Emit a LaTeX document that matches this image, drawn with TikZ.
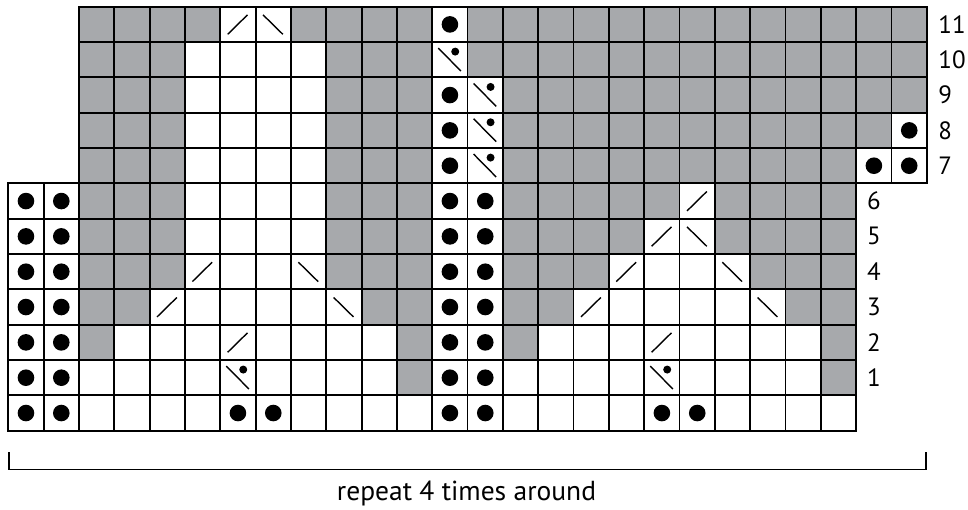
\documentclass[tikz,border=0pt]{standalone}
\usepackage{fontspec}
\setmainfont{PT Sans}
\definecolor{chartgray}{RGB}{167,169,172}
\tikzset{
  gridline/.style={line width=1.8pt, line cap=rect},
  symline/.style={line width=1.4pt},
  bracketline/.style={line width=1.7pt},
  rowlabel/.style={anchor=west, inner sep=0pt, font=\fontsize{25}{25}\selectfont},
  captiontext/.style={anchor=base, inner sep=0pt, font=\fontsize{27.5}{27.5}\selectfont},
}
\newcommand\symG{\fill[chartgray] (0,0) rectangle (1,1);}
\newcommand\symW{}
\newcommand\symD{\fill (0.5,0.5) circle[radius=8.3pt];}
\newcommand\symL{\draw[symline] (0.21,0.22) -- (0.77,0.77);}
\newcommand\symR{\draw[symline] (0.21,0.77) -- (0.77,0.22);}
\newcommand\symP{\draw[symline] (0.17,0.83) -- (0.81,0.18); \fill (0.65,0.73) circle[radius=4pt];}
\newcommand\chartcell[3]{\begin{scope}[shift={(#1,#2)}]\csname sym#3\endcsname\end{scope}}
\newcommand\chartrow[3]{\foreach \t [count=\c from #2] in {#3} {\chartcell{\c}{#1}{\t}}}
\begin{document}
\begin{tikzpicture}[x=1pt,y=1pt]
\useasboundingbox (0,0) rectangle (968,509);
\begin{scope}[shift={(8.3,78.3)}, x=35.33pt, y=35.33pt]
  \chartrow{0}{0}{D,D,W,W,W,W,D,D,W,W,W,W,D,D,W,W,W,W,D,D,W,W,W,W}
  \chartrow{1}{0}{D,D,W,W,W,W,P,W,W,W,W,G,D,D,W,W,W,W,P,W,W,W,W,G}
  \chartrow{2}{0}{D,D,G,W,W,W,L,W,W,W,W,G,D,D,G,W,W,W,L,W,W,W,W,G}
  \chartrow{3}{0}{D,D,G,G,L,W,W,W,W,R,G,G,D,D,G,G,L,W,W,W,W,R,G,G}
  \chartrow{4}{0}{D,D,G,G,G,L,W,W,R,G,G,G,D,D,G,G,G,L,W,W,R,G,G,G}
  \chartrow{5}{0}{D,D,G,G,G,W,W,W,W,G,G,G,D,D,G,G,G,G,L,R,G,G,G,G}
  \chartrow{6}{0}{D,D,G,G,G,W,W,W,W,G,G,G,D,D,G,G,G,G,G,L,G,G,G,G}
  \chartrow{7}{2}{G,G,G,W,W,W,W,G,G,G,D,P,G,G,G,G,G,G,G,G,G,G,D,D}
  \chartrow{8}{2}{G,G,G,W,W,W,W,G,G,G,D,P,G,G,G,G,G,G,G,G,G,G,G,D}
  \chartrow{9}{2}{G,G,G,W,W,W,W,G,G,G,D,P,G,G,G,G,G,G,G,G,G,G,G,G}
  \chartrow{10}{2}{G,G,G,W,W,W,W,G,G,G,P,G,G,G,G,G,G,G,G,G,G,G,G,G}
  \chartrow{11}{2}{G,G,G,G,L,R,G,G,G,G,D,G,G,G,G,G,G,G,G,G,G,G,G,G}
  \foreach \x in {0,...,24} \draw[gridline] (\x,0) -- (\x,7);
  \foreach \x in {2,...,26} \draw[gridline] (\x,7) -- (\x,12);
  \foreach \y in {0,...,6} \draw[gridline] (0,\y) -- (24,\y);
  \draw[gridline] (0,7) -- (26,7);
  \foreach \y in {8,...,12} \draw[gridline] (2,\y) -- (26,\y);
  \foreach \r in {1,...,6} \node[rowlabel] (lab\r) at (24.3,\r+0.5) {\r};
  \foreach \r in {7,...,11} \node[rowlabel] (lab\r) at (26.32,\r+0.5) {\r};
\end{scope}
\coordinate (btl) at (9,57);
\coordinate (bbl) at (9,39.5);
\coordinate (bbr) at (926.3,39.5);
\coordinate (btr) at (926.3,57);
\draw[bracketline] (btl) -- (bbl) -- (bbr) -- (btr);
\node[captiontext] (caption) at (466.5,9) {repeat 4 times around};
\end{tikzpicture}
\end{document}
